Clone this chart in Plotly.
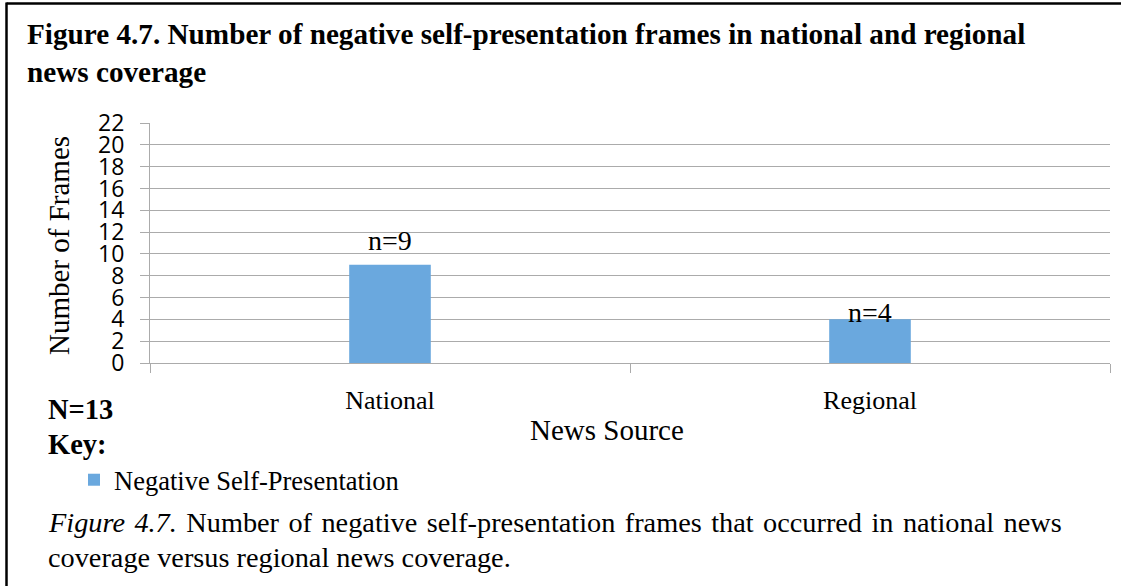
import plotly.graph_objects as go

# Data
categories = ["National", "Regional"]
frames = [9, 4]
series_name = "Negative Self-Presentation"
y_ticks = list(range(0, 23, 2))

W, H = 1121, 586
L, R, T, B = 150, 11, 123, 223  # plot area margins in px
PW, PH = W - L - R, H - T - B

def xp(px):
    return (px - L) / PW

def yp(py):
    return (H - B - py) / PH

SERIF = "Liberation Serif"
BLUE = "#6AA8DE"
GRID = "#ABABAB"

fig = go.Figure()
fig.add_trace(go.Bar(
    x=categories, y=frames, name=series_name,
    width=0.17, marker=dict(color=BLUE, line=dict(width=0)),
    showlegend=True,
))

# value labels above bars
label_shift = [24, 7]
annotations = []
for c, v, s in zip(categories, frames, label_shift):
    annotations.append(dict(
        x=c, y=v, xref="x", yref="y", text=f"n={v}", showarrow=False,
        yanchor="middle", yshift=s, font=dict(family=SERIF, size=28, color="black"),
    ))

def text(px, py, s, size, bold=False, xanchor="left", angle=0):
    if bold:
        s = f"<b>{s}</b>"
    annotations.append(dict(
        x=xp(px), y=yp(py), xref="paper", yref="paper", text=s, showarrow=False,
        xanchor=xanchor, yanchor="middle", textangle=angle,
        font=dict(family=SERIF, size=size, color="black"),
    ))

caption_1 = ["<i>Figure", "4.7.</i>"] + "Number of negative self-presentation frames that occurred in national news".split(" ")

text(25, 34, "Figure 4.7. Number of negative self-presentation frames in national and regional", 29.2, bold=True)
text(25, 72, "news coverage", 29.2, bold=True)
text(59, 246, "Number of Frames", 29, xanchor="center", angle=-90)
text(607, 430, "News Source", 29, xanchor="center")
text(46, 409, "N=13", 28.5, bold=True)
text(46, 444, "Key:", 28.5, bold=True)
text(46, 522, "\u00a0\u200a".join(caption_1), 28.3)
text(46, 557, "coverage versus regional news coverage.", 28.3)

shapes = [
    dict(type="line", xref="paper", yref="paper", x0=xp(6.5), x1=xp(W + 5), y0=yp(3.5), y1=yp(3.5),
         line=dict(color="black", width=2.5)),
    dict(type="line", xref="paper", yref="paper", x0=xp(6.5), x1=xp(6.5), y0=yp(2.5), y1=yp(H + 5),
         line=dict(color="black", width=2.5)),
]

fig.update_layout(
    width=W, height=H,
    margin=dict(l=L, r=R, t=T, b=B, pad=0),
    paper_bgcolor="white", plot_bgcolor="white",
    annotations=annotations, shapes=shapes,
    legend=dict(x=xp(74), y=yp(480), xanchor="left", yanchor="middle",
                font=dict(family=SERIF, size=26.5, color="black"),
                bgcolor="rgba(0,0,0,0)", borderwidth=0),
    xaxis=dict(
        type="category", tickson="boundaries", ticks="outside", ticklen=9,
        tickcolor=GRID, showline=True, linecolor=GRID, linewidth=1,
        showgrid=False, zeroline=False,
        tickfont=dict(family=SERIF, size=26, color="black"),
        ticklabelstandoff=14,
    ),
    yaxis=dict(
        range=[0, 22], tickvals=y_ticks, ticks="outside", ticklen=9,
        tickcolor=GRID, showline=True, linecolor=GRID, linewidth=1,
        showgrid=True, gridcolor=GRID, gridwidth=1, zeroline=False,
        tickfont=dict(family="Open Sans", size=23, color="black"),
        ticklabelstandoff=11,
    ),
)

fig.write_html("out.html")
